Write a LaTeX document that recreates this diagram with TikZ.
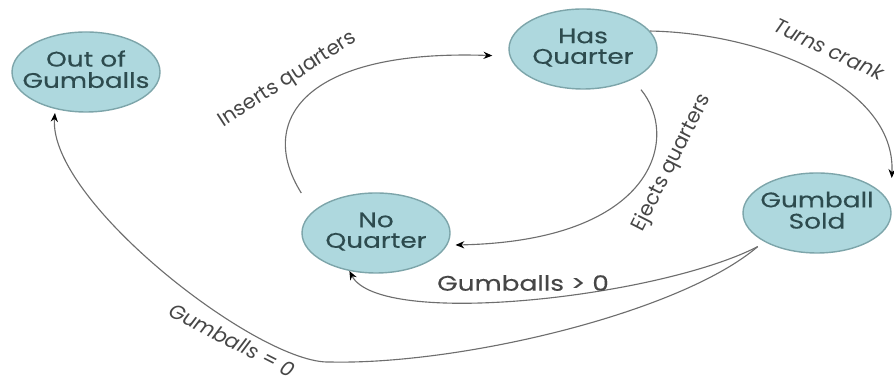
\documentclass[tikz,border=0pt]{standalone}
\usepackage{fontspec}
\setmainfont{Poppins}
\newfontfamily\statefont{Poppins}[FakeStretch=1.25,FakeBold=0.3]
\usetikzlibrary{shapes.geometric,arrows.meta}
\definecolor{statefill}{RGB}{174,216,222}
\definecolor{stateline}{RGB}{125,165,170}
\definecolor{statetext}{RGB}{45,75,78}
\definecolor{edgegray}{RGB}{110,110,110}
\definecolor{labelgray}{RGB}{70,70,70}
\newcommand{\statename}[2]{\makebox[0pt]{\begin{tabular}{@{}c@{}}#1\\#2\end{tabular}}}
\begin{document}
\begin{tikzpicture}[>={Stealth[length=2.2mm,width=1.8mm,black]}, line width=0.8pt,
  font=\fontsize{14.5}{14}\selectfont,
  statebox/.style={ellipse, draw=stateline, fill=statefill, line width=1pt,
    minimum width=3.7cm, minimum height=2cm, inner sep=0pt, text=statetext,
    font=\statefont\fontsize{15}{13.5}\selectfont},
  edgelabel/.style={text=labelgray}]
\useasboundingbox (0,0) rectangle (22.35,9.625);
\node[statebox](out) at (2.15,7.825){\statename{Out of}{Gumballs}};
\node[statebox](has) at (14.575,8.4){\statename{Has}{Quarter}};
\node[statebox](noq) at (9.4,3.8){\statename{No}{Quarter}};
\node[statebox](sold) at (20.425,4.3){\statename{Gumball}{Sold}};
\draw[->,edgegray,shorten >=0.4cm]([yshift=1cm]noq.west) .. controls (6.4,6.6) and (7.6,8.4) .. ([yshift=-0.18cm]has.west);
\draw[->,edgegray]([shift={(1.45cm,0)}]has.south) .. controls (17.0,6.2) and (16.4,3.6) .. ([shift={(0.12cm,-0.3cm)}]noq.east);
\draw[->,edgegray](has.15) .. controls (19.0,8.8) and (22.4,7.5) .. ([yshift=0.875cm]sold.east);
\draw[->,edgegray]([shift={(-0.2cm,-0.1cm)}]sold.-150) .. controls (16.5,2.2) and (9.5,1.4) .. (noq.235);
\draw[->,edgegray]([shift={(-0.2cm,-0.1cm)}]sold.-150) .. controls (17.0,1.8) and (11.5,0.5) .. (8.25,0.575)
  .. controls (6.5,0.5) and (1.2,4.6) .. ([yshift=-0.1cm]out.230);
\node[edgelabel, rotate=33](ins) at (7.2,7.625){Inserts quarters};
\node[edgelabel, rotate=63](eje) at (16.8,5.55){Ejects quarters};
\node[edgelabel, rotate=-25, font=\fontsize{14.5}{14}\selectfont\itshape](trn) at (20.725,8.4){Turns crank};
\node[edgelabel, font=\statefont\fontsize{15}{14}\selectfont](gpos) at (13.075,2.55){Gumballs > 0};
\node[edgelabel, rotate=-27, font=\fontsize{14.5}{14}\selectfont\itshape](gzero) at (5.8,1.12){Gumballs = 0};
\end{tikzpicture}
\end{document}
